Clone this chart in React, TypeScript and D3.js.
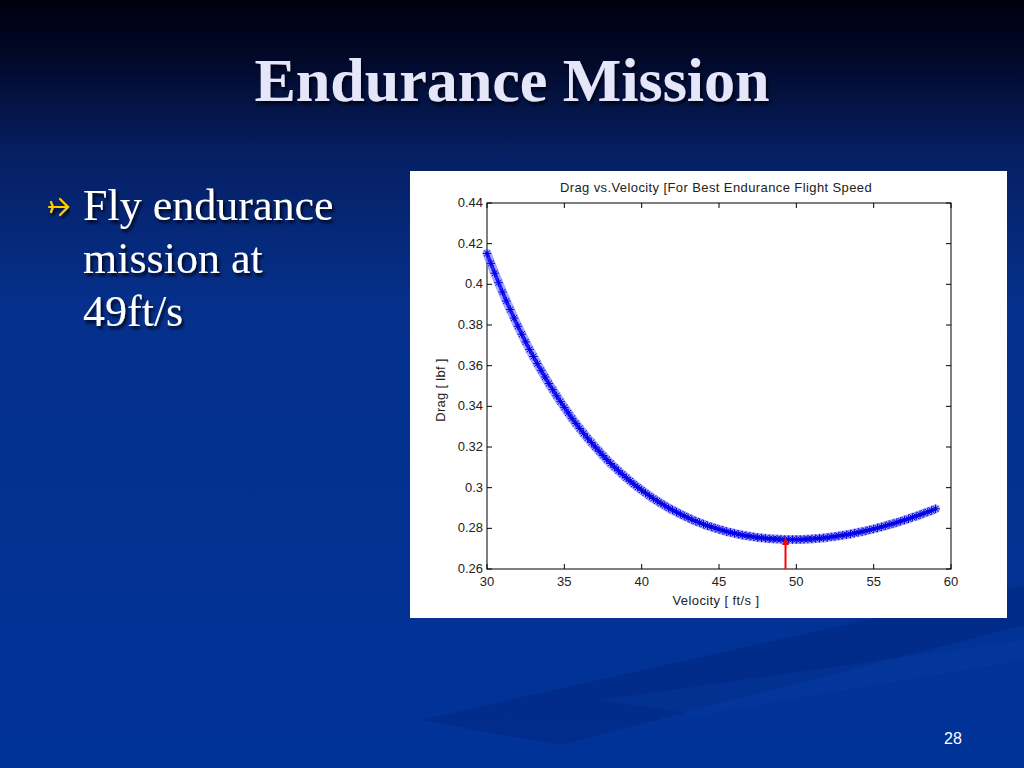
import React from "react";
import * as d3 from "d3";

// Drag vs. velocity samples
const velocity = [
  30, 30.25, 30.5, 30.75, 31, 31.25, 31.5, 31.75, 32, 32.25, 32.5, 32.75,
  33, 33.25, 33.5, 33.75, 34, 34.25, 34.5, 34.75, 35, 35.25, 35.5, 35.75,
  36, 36.25, 36.5, 36.75, 37, 37.25, 37.5, 37.75, 38, 38.25, 38.5, 38.75,
  39, 39.25, 39.5, 39.75, 40, 40.25, 40.5, 40.75, 41, 41.25, 41.5, 41.75,
  42, 42.25, 42.5, 42.75, 43, 43.25, 43.5, 43.75, 44, 44.25, 44.5, 44.75,
  45, 45.25, 45.5, 45.75, 46, 46.25, 46.5, 46.75, 47, 47.25, 47.5, 47.75,
  48, 48.25, 48.5, 48.75, 49, 49.25, 49.5, 49.75, 50, 50.25, 50.5, 50.75,
  51, 51.25, 51.5, 51.75, 52, 52.25, 52.5, 52.75, 53, 53.25, 53.5, 53.75,
  54, 54.25, 54.5, 54.75, 55, 55.25, 55.5, 55.75, 56, 56.25, 56.5, 56.75,
  57, 57.25, 57.5, 57.75, 58, 58.25, 58.5, 58.75, 59,
];

const drag = [
  0.4152, 0.4103, 0.4055, 0.4008, 0.3962, 0.3918, 0.3876, 0.3834, 0.3794, 0.3755, 0.3717, 0.368,
  0.3645, 0.361, 0.3577, 0.3544, 0.3512, 0.3482, 0.3452, 0.3423, 0.3395, 0.3368, 0.3341, 0.3316,
  0.3291, 0.3267, 0.3244, 0.3222, 0.32, 0.3179, 0.3158, 0.3138, 0.3119, 0.3101, 0.3083, 0.3066,
  0.3049, 0.3033, 0.3017, 0.3002, 0.2988, 0.2974, 0.296, 0.2947, 0.2935, 0.2923, 0.2912, 0.29,
  0.289, 0.288, 0.287, 0.2861, 0.2852, 0.2843, 0.2835, 0.2828, 0.282, 0.2813, 0.2807, 0.2801,
  0.2795, 0.279, 0.2784, 0.278, 0.2775, 0.2771, 0.2767, 0.2764, 0.2761, 0.2758, 0.2755, 0.2753,
  0.2751, 0.2749, 0.2748, 0.2747, 0.2746, 0.2745, 0.2745, 0.2745, 0.2745, 0.2745, 0.2746, 0.2747,
  0.2748, 0.275, 0.2751, 0.2753, 0.2755, 0.2758, 0.276, 0.2763, 0.2766, 0.2769, 0.2772, 0.2776,
  0.278, 0.2784, 0.2788, 0.2793, 0.2797, 0.2802, 0.2807, 0.2812, 0.2818, 0.2823, 0.2829, 0.2835,
  0.2841, 0.2847, 0.2854, 0.286, 0.2867, 0.2874, 0.2881, 0.2888, 0.2896,
];

const xTicks = [30, 35, 40, 45, 50, 55, 60];
const yTicks = [0.26, 0.28, 0.3, 0.32, 0.34, 0.36, 0.38, 0.4, 0.42, 0.44];

// best endurance speed arrow
const bestSpeed = 49.3;
const bestDrag = 0.2752;

const bulletLines = ["Fly endurance", "mission at", "49ft/s"];

const W = 1024;
const H = 768;

// plot box in page pixels
const box = { left: 487, right: 951, top: 203, bottom: 569 };

const star = (s: number) => {
  const r = s * 0.72;
  return `M${-s},0H${s}M0,${-s}V${s}M${-r},${-r}L${r},${r}M${-r},${r}L${r},${-r}`;
};

const App: React.FC = () => {
  const x = d3.scaleLinear().domain([30, 60]).range([box.left, box.right]);
  const y = d3.scaleLinear().domain([0.26, 0.44]).range([box.bottom, box.top]);
  const fmt = (d: number) => String(+d.toFixed(2));
  const pts = velocity.map((v, i) => [x(v), y(drag[i])] as [number, number]);
  const band = d3.line().curve(d3.curveMonotoneX)(pts) || "";
  const tick = 5;
  const axisFont = "'Liberation Sans', Arial, sans-serif";
  const ax = x(bestSpeed);
  const tipY = y(bestDrag);

  return (
    <svg
      width={W}
      height={H}
      style={{ position: "absolute", left: 0, top: 0, display: "block" }}
    >
      <defs>
        <linearGradient id="bg" x1="0" y1="0" x2="0" y2="1">
          <stop offset="0" stopColor="#00000f" />
          <stop offset="0.06" stopColor="#010622" />
          <stop offset="0.2" stopColor="#061f63" />
          <stop offset="0.4" stopColor="#05308c" />
          <stop offset="1" stopColor="#003399" />
        </linearGradient>
        <filter id="shadow" x="-10%" y="-10%" width="120%" height="130%">
          <feDropShadow dx="2" dy="3" stdDeviation="1.5" floodColor="#000010" floodOpacity="0.85" />
        </filter>
      </defs>

      <rect width={W} height={H} fill="url(#bg)" />
      {/* faint diagonal streaks */}
      <path d="M420,720 L1024,585 L1024,625 L560,745 Z" fill="#001f6e" opacity={0.3} />
      <path d="M600,700 L1024,640 L1024,660 L700,715 Z" fill="#0a3fa6" opacity={0.3} />

      <text
        x={512}
        y={101}
        textAnchor="middle"
        fontFamily="'Liberation Serif', 'Times New Roman', serif"
        fontWeight="bold"
        fontSize={62}
        fill="#e6e6fa"
        filter="url(#shadow)"
      >
        Endurance Mission
      </text>

      {/* airplane bullet */}
      <g transform="translate(48,207)" fill="none" stroke="#ffcc00" strokeWidth={2.2} strokeLinecap="round" filter="url(#shadow)">
        <path d="M1,0H20" />
        <path d="M12,-8L20,0L12,8" />
        <path d="M3,-5L5,0L3,5" />
      </g>
      {bulletLines.map((t, i) => (
        <text
          key={t}
          x={83}
          y={220 + i * 53}
          fontFamily="'Liberation Serif', 'Times New Roman', serif"
          fontSize={44}
          fill="#ffffff"
          filter="url(#shadow)"
        >
          {t}
        </text>
      ))}

      <text x={953} y={744} textAnchor="middle" fontFamily={axisFont} fontSize={16} fill="#ffffff">
        28
      </text>

      {/* chart panel */}
      <rect x={410} y={171} width={597} height={447} fill="#ffffff" />
      <text x={716} y={192} textAnchor="middle" fontFamily={axisFont} fontSize={13} letterSpacing={0.4} fill="#222">
        Drag vs.Velocity [For Best Endurance Flight Speed
      </text>

      {xTicks.map((t) => (
        <g key={`x${t}`}>
          <line x1={x(t)} x2={x(t)} y1={box.bottom} y2={box.bottom - tick} stroke="#000" />
          <line x1={x(t)} x2={x(t)} y1={box.top} y2={box.top + tick} stroke="#000" />
          <text x={x(t)} y={box.bottom + 17} textAnchor="middle" fontFamily={axisFont} fontSize={13} fill="#222">
            {fmt(t)}
          </text>
        </g>
      ))}
      {yTicks.map((t) => (
        <g key={`y${t}`}>
          <line x1={box.left} x2={box.left + tick} y1={y(t)} y2={y(t)} stroke="#000" />
          <line x1={box.right} x2={box.right - tick} y1={y(t)} y2={y(t)} stroke="#000" />
          <text x={box.left - 4} y={y(t) + 4} textAnchor="end" fontFamily={axisFont} fontSize={13} fill="#222">
            {fmt(t)}
          </text>
        </g>
      ))}
      <rect
        x={box.left}
        y={box.top}
        width={box.right - box.left}
        height={box.bottom - box.top}
        fill="none"
        stroke="#000"
        strokeWidth={1}
      />

      <text x={716} y={605} textAnchor="middle" fontFamily={axisFont} fontSize={13} letterSpacing={0.4} fill="#222">
        Velocity [ ft/s ]
      </text>
      <text
        transform={`translate(445,${(box.top + box.bottom) / 2 + 4}) rotate(-90)`}
        textAnchor="middle"
        fontFamily={axisFont}
        fontSize={13}
        letterSpacing={0.3}
        fill="#222"
      >
        Drag [ lbf ]
      </text>

      {/* marker band: the stars overlap into a thick trace */}
      <path d={band} fill="none" stroke="#7f7fff" strokeWidth={9} strokeLinecap="round" opacity={0.7} />
      <path d={band} fill="none" stroke="#1f1fff" strokeWidth={3.5} strokeLinecap="round" />
      <g stroke="#0000e0" strokeWidth={1} fill="none">
        {pts.map(([px, py], i) => (
          <path key={`s${i}`} d={star(4.2)} transform={`translate(${px},${py})`} />
        ))}
      </g>

      <line x1={ax} x2={ax} y1={y(0.26)} y2={tipY + 6} stroke="#ff0000" strokeWidth={2} />
      <path d={`M${ax - 3.5},${tipY + 7}L${ax},${tipY - 1}L${ax + 3.5},${tipY + 7}Z`} fill="#ff0000" />
    </svg>
  );
};

export default App;
